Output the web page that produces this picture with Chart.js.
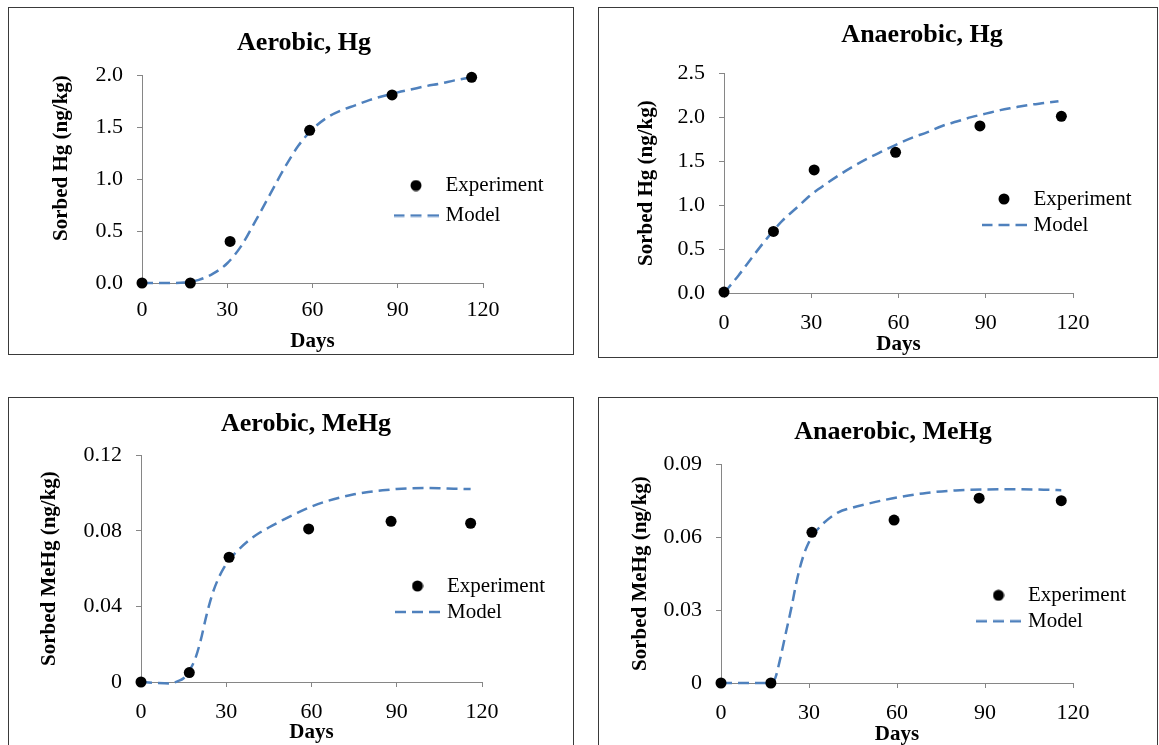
<!DOCTYPE html>
<html>
<head>
<meta charset="utf-8">
<script src="https://cdn.jsdelivr.net/npm/chart.js@4.4.1/dist/chart.umd.min.js"></script>
<style>
  html, body { margin: 0; padding: 0; background: #fff; overflow: hidden; }
  body { width: 1159px; height: 745px; position: relative; }
  .panel { position: absolute; box-sizing: border-box; border: 1px solid #3a3a3a; background: #fff; }
  .panel canvas { position: absolute; left: 0; top: 0; }
</style>
</head>
<body>
<div class="panel" style="left:8px;top:7px;width:566px;height:348px;"><canvas id="c1" width="564" height="346"></canvas></div>
<div class="panel" style="left:598px;top:7px;width:560px;height:351px;"><canvas id="c2" width="558" height="349"></canvas></div>
<div class="panel" style="left:8px;top:397px;width:566px;height:354px;"><canvas id="c3" width="564" height="352"></canvas></div>
<div class="panel" style="left:598px;top:397px;width:560px;height:354px;"><canvas id="c4" width="558" height="352"></canvas></div>
<script>
// ---------- data ----------
const xTickLabels = ["0", "30", "60", "90", "120"];

const expDays = [0, 17, 31, 59, 88, 116];
const aerobicHgExp    = [0, 0, 0.40, 1.47, 1.81, 1.98];
const anaerobicHgExp  = [0.01, 0.70, 1.40, 1.60, 1.90, 2.01];
const aerobicMeHgExp  = [0, 0.005, 0.066, 0.081, 0.085, 0.084];
const anaerobicMeHgExp = [0, 0, 0.062, 0.067, 0.076, 0.075];

const aerobicHgModelDays = [0, 5, 10, 15, 20, 25, 30, 35, 40, 45, 50, 55, 60, 65, 70, 75, 80, 85, 90, 95, 100, 105, 110, 116];
const aerobicHgModel     = [0, 0, 0, 0.005, 0.03, 0.09, 0.19, 0.36, 0.60, 0.85, 1.10, 1.32, 1.48, 1.59, 1.66, 1.71, 1.76, 1.80, 1.835, 1.865, 1.895, 1.92, 1.95, 1.98];

const anaerobicHgModelDays = [0, 5, 10, 15, 20, 25, 30, 35, 40, 45, 50, 55, 60, 65, 70, 75, 80, 85, 90, 95, 100, 105, 110, 115];
const anaerobicHgModel     = [0, 0.20, 0.42, 0.63, 0.82, 0.97, 1.12, 1.24, 1.35, 1.45, 1.54, 1.62, 1.70, 1.77, 1.83, 1.90, 1.95, 2.00, 2.04, 2.08, 2.11, 2.14, 2.16, 2.18];

const aerobicMeHgModelDays = [0, 5, 10, 13, 15, 17, 19, 21, 23, 25, 27, 29, 31, 34, 38, 42, 46, 50, 55, 60, 65, 70, 75, 80, 85, 90, 95, 100, 105, 110, 116];
const aerobicMeHgModel     = [0, -0.0005, -0.0008, 0.0005, 0.002, 0.006, 0.012, 0.022, 0.035, 0.046, 0.054, 0.060, 0.0645, 0.0695, 0.075, 0.0792, 0.0826, 0.0858, 0.0895, 0.0928, 0.0955, 0.0976, 0.0993, 0.1005, 0.1014, 0.1021, 0.1025, 0.1026, 0.1025, 0.1023, 0.1021];

const anaerobicMeHgModelDays = [0, 5, 10, 15, 17, 18.5, 20, 22, 24, 26, 28, 30, 32, 35, 40, 45, 50, 55, 60, 70, 80, 90, 100, 110, 116];
const anaerobicMeHgModel     = [0, 0, 0, 0, 0, 0.002, 0.009, 0.020, 0.031, 0.043, 0.052, 0.058, 0.0618, 0.0658, 0.0702, 0.0722, 0.0737, 0.0751, 0.0763, 0.0782, 0.0792, 0.0796, 0.0797, 0.0795, 0.0793];

const yTicksAerobicHg     = ["0.0", "0.5", "1.0", "1.5", "2.0"];
const yTicksAnaerobicHg   = ["0.0", "0.5", "1.0", "1.5", "2.0", "2.5"];
const yTicksAerobicMeHg   = ["0", "0.04", "0.08", "0.12"];
const yTicksAnaerobicMeHg = ["0", "0.03", "0.06", "0.09"];

// ---------- styling ----------
const BLUE = '#4F81BD';
const AXIS = '#868686';
const DASH = [11, 6];
Chart.defaults.font.family = "'Liberation Serif', 'Times New Roman', serif";
Chart.defaults.color = '#000';

// legend symbols (used as Chart.js pointStyle images)
function dotImage() {
  const c = document.createElement('canvas'); c.width = 12; c.height = 12;
  const g = c.getContext('2d'); g.fillStyle = '#000';
  g.beginPath(); g.arc(6, 6, 5.5, 0, Math.PI * 2); g.fill();
  return c;
}
function dashImage() {
  const c = document.createElement('canvas'); c.width = 45; c.height = 4;
  const g = c.getContext('2d'); g.strokeStyle = BLUE; g.lineWidth = 2.5; g.setLineDash(DASH);
  g.beginPath(); g.moveTo(0, 2); g.lineTo(45, 2); g.stroke();
  return c;
}
const DOT_IMG = dotImage();
const DASH_IMG = dashImage();

const placement = {
  id: 'panelPlacement',
  afterLayout(chart, args, opts) {
    const t = chart.titleBlock;
    if (t) { t.left += opts.titleDx; t.right += opts.titleDx; }
    const lg = chart.legend;
    if (lg) {
      const pad = lg.options.labels.padding;
      const half = lg.options.labels.pointStyleWidth / 2;
      lg.left = opts.legendX - half - pad;
      lg.top = opts.legendY - lg.options.labels.font.size / 2 - pad;
      lg.right = lg.left + 300;
      lg.bottom = lg.top + 400;
      lg.width = 300; lg.height = 400;
    }
  }
};

function pts(xs, ys) { return xs.map((x, i) => ({ x: x, y: ys[i] })); }

function makeChart(id, o) {
  return new Chart(document.getElementById(id), {
    type: 'scatter',
    data: {
      datasets: [
        { label: 'Experiment', data: pts(expDays, o.exp), showLine: false, clip: false,
          pointRadius: 5.5, pointHoverRadius: 5.5, pointBorderWidth: 0,
          backgroundColor: '#000', borderColor: '#000' },
        { label: 'Model', data: pts(o.modelDays, o.model), showLine: true, clip: false,
          pointRadius: 0, pointHoverRadius: 0, borderColor: BLUE, backgroundColor: BLUE,
          borderWidth: 2.5, borderDash: DASH, cubicInterpolationMode: 'monotone', fill: false }
      ]
    },
    options: {
      responsive: false, animation: false, events: [],
      layout: { padding: { left: 0, top: 0, right: o.padRight, bottom: 0 } },
      plugins: {
        title: { display: true, text: o.title, fullSize: false, color: '#000',
          font: { size: 26, weight: 'bold' }, padding: { top: o.titlePadTop, bottom: o.titlePadBottom } },
        legend: { display: true, position: 'chartArea', align: 'start',
          labels: { usePointStyle: true, pointStyleWidth: 38, boxHeight: 8, padding: o.legendPad,
            font: { size: 21 }, color: '#000',
            generateLabels: (chart) => chart.data.datasets.map((ds, i) => ({
              text: ds.label, fontColor: '#000', hidden: false, datasetIndex: i,
              pointStyle: i === 0 ? DOT_IMG : DASH_IMG,
              fillStyle: ds.backgroundColor, strokeStyle: ds.borderColor, lineWidth: 0
            })) } },
        tooltip: { enabled: false },
        panelPlacement: { titleDx: o.titleDx, legendX: o.legendX, legendY: o.legendY }
      },
      scales: {
        x: { type: 'linear', min: 0, max: 120,
          ticks: { stepSize: 30, padding: o.xTickPad, color: '#000', font: { size: 22 },
            maxRotation: 0, autoSkip: false, callback: (v, i) => xTickLabels[i] },
          grid: { drawOnChartArea: false, drawTicks: true, tickLength: 5, color: AXIS },
          border: { display: true, color: AXIS, width: 1 },
          title: { display: true, text: 'Days', color: '#000', font: { size: 21, weight: 'bold' },
            padding: { top: 0, bottom: o.xTitlePad } },
          afterFit: (s) => { s.height = o.xAxisHeight; } },
        y: { type: 'linear', min: 0, max: o.yMax,
          ticks: { stepSize: o.yStep, padding: 14, color: '#000', font: { size: 22 },
            autoSkip: false, callback: (v, i) => o.yLabels[i] },
          grid: { drawOnChartArea: false, drawTicks: true, tickLength: 5, color: AXIS },
          border: { display: true, color: AXIS, width: 1 },
          title: { display: true, text: o.yTitle, align: o.yTitleAlign, color: '#000',
            font: { size: 21, weight: 'bold' }, padding: { top: o.yTitlePad, bottom: 0 } },
          afterFit: (s) => { s.width = o.yAxisWidth; } }
      }
    },
    plugins: [placement]
  });
}

makeChart('c1', {
  title: 'Aerobic, Hg', yTitle: 'Sorbed Hg (ng/kg)', yTitleAlign: 'end',
  exp: aerobicHgExp, modelDays: aerobicHgModelDays, model: aerobicHgModel,
  yMax: 2.0, yStep: 0.5, yLabels: yTicksAerobicHg,
  yAxisWidth: 133, padRight: 90, xAxisHeight: 71,
  titlePadTop: 20, titlePadBottom: 16, titleDx: -8.5,
  xTickPad: 9, xTitlePad: 0, yTitlePad: 40.4,
  legendX: 407, legendY: 177.5, legendPad: 9
});
makeChart('c2', {
  title: 'Anaerobic, Hg', yTitle: 'Sorbed Hg (ng/kg)', yTitleAlign: 'center',
  exp: anaerobicHgExp, modelDays: anaerobicHgModelDays, model: anaerobicHgModel,
  yMax: 2.5, yStep: 0.5, yLabels: yTicksAnaerobicHg,
  yAxisWidth: 125, padRight: 84, xAxisHeight: 64,
  titlePadTop: 11.5, titlePadBottom: 22.5, titleDx: 23.5,
  xTickPad: 12.3, xTitlePad: 0, yTitlePad: 35.4,
  legendX: 405, legendY: 191, legendPad: 5
});
makeChart('c3', {
  title: 'Aerobic, MeHg', yTitle: 'Sorbed MeHg (ng/kg)', yTitleAlign: 'center',
  exp: aerobicMeHgExp, modelDays: aerobicMeHgModelDays, model: aerobicMeHgModel,
  yMax: 0.12, yStep: 0.04, yLabels: yTicksAerobicMeHg,
  yAxisWidth: 132, padRight: 91, xAxisHeight: 68,
  titlePadTop: 11, titlePadBottom: 15, titleDx: -5.5,
  xTickPad: 11.8, xTitlePad: 4.9, yTitlePad: 28.4,
  legendX: 408.5, legendY: 188, legendPad: 5
});
makeChart('c4', {
  title: 'Anaerobic, MeHg', yTitle: 'Sorbed MeHg (ng/kg)', yTitleAlign: 'center',
  exp: anaerobicMeHgExp, modelDays: anaerobicMeHgModelDays, model: anaerobicMeHgModel,
  yMax: 0.09, yStep: 0.03, yLabels: yTicksAnaerobicMeHg,
  yAxisWidth: 122, padRight: 84, xAxisHeight: 67,
  titlePadTop: 18.7, titlePadBottom: 16.3, titleDx: -4,
  xTickPad: 11.8, xTitlePad: 2.9, yTitlePad: 29.4,
  legendX: 399.5, legendY: 197.3, legendPad: 5
});
</script>
</body>
</html>
